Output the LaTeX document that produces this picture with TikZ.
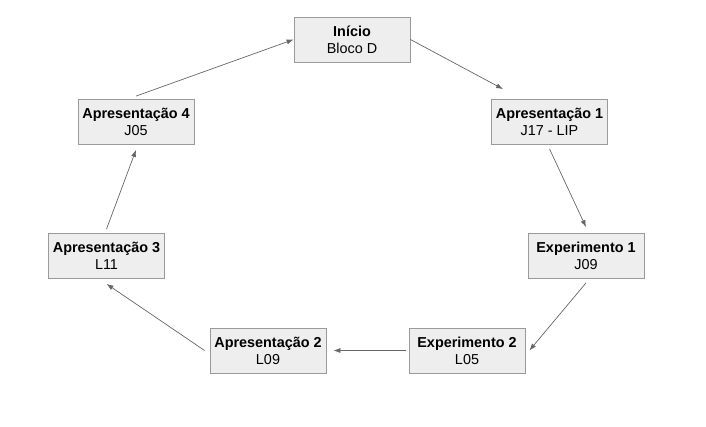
\documentclass[tikz,border=0pt]{standalone}
\usepackage{fontspec}
\setmainfont{Liberation Sans}
\usepackage{xcolor}
\usetikzlibrary{arrows.meta}
\definecolor{boxfill}{HTML}{EEEEEE}
\definecolor{boxline}{HTML}{9A9A9A}
\definecolor{arrowline}{HTML}{666666}
\begin{document}
\begin{tikzpicture}[x=1pt, y=-1pt, every node/.style={draw=boxline, fill=boxfill, thick, align=center, minimum width=116pt, minimum height=45pt, inner sep=0pt, font=\fontsize{14.4}{17}\selectfont},%
        every path/.style={line width=0.7pt}, link/.style={draw=arrowline, -{Latex[length=7pt,width=5pt]}}]
        \useasboundingbox (0,0) rectangle (706,426);
        \node (ini) at (352,39.5) {\textbf{Início}\\Bloco D};
        \node (ap1) at (549.5,122) {\textbf{Apresentação 1}\\J17 - LIP};
        \node (exp1) at (586,256) {\textbf{Experimento 1}\\J09};
        \node (exp2) at (467,350.5) {\textbf{Experimento 2}\\L05};
        \node (ap2) at (268,350.5) {\textbf{Apresentação 2}\\L09};
        \node (ap3) at (106.5,256) {\textbf{Apresentação 3}\\L11};
        \node (ap4) at (136,122) {\textbf{Apresentação 4}\\J05};
        \draw[link] (ini.east) -- ([xshift=12pt,yshift=10pt]ap1.north west);
        \draw[link] ([yshift=-4pt]ap1.south) -- ([yshift=6pt]exp1.north);
        \draw[link] ([yshift=-4pt]exp1.south) -- ([xshift=4pt]exp2.east);
        \draw[link] ([xshift=-3pt]exp2.west) -- ([xshift=7pt]ap2.east);
        \draw[link] ([xshift=-5pt]ap2.west) -- ([yshift=-5pt]ap3.south);
        \draw[link] ([yshift=4pt]ap3.north) -- ([yshift=-5pt]ap4.south);
        \draw[link] ([yshift=3pt]ap4.north) -- (ini.west);
    \end{tikzpicture}
\end{document}
